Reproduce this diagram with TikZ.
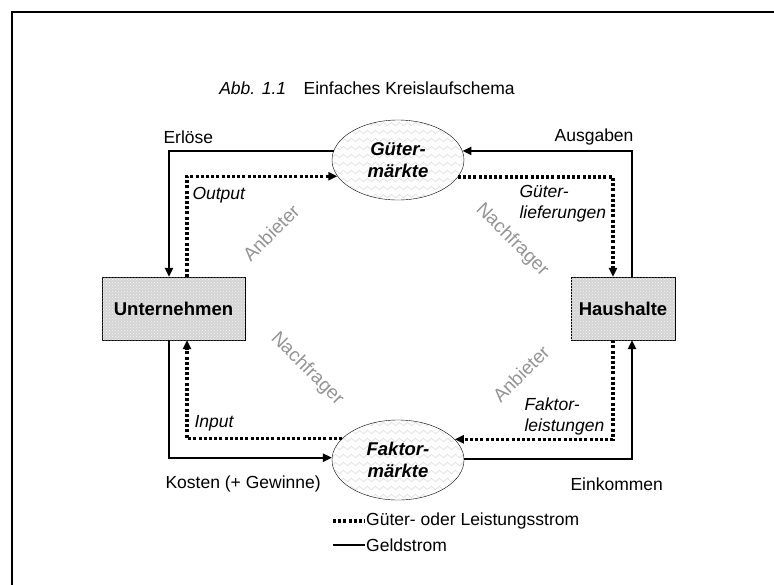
\documentclass[tikz,border=0pt]{standalone}
\usepackage{fontspec}
\setmainfont{Liberation Sans}
\usetikzlibrary{arrows.meta,decorations.pathmorphing,patterns,shapes.geometric}

\begin{document}
\begin{tikzpicture}[x=1pt,y=-1pt,
  every node/.style={font=\fontsize{17.5}{21}\selectfont},
  geld/.style={line width=2.2pt,-{Triangle[length=9pt,width=8pt]}},
  gut/.style={line width=3.4pt,dash pattern=on 3pt off 2.2pt,-{Triangle[length=9pt,width=8pt]}},
  markt/.style={draw,ellipse,minimum width=132pt,minimum height=80pt,inner sep=0pt,align=center,font=\fontsize{18.5}{22}\selectfont\bfseries\itshape},
  sektor/.style={draw,fill=black!17,postaction={pattern=crosshatch dots,pattern color=white!75!black!17},inner sep=0pt,font=\fontsize{18.5}{22}\selectfont\bfseries},
  rolle/.style={text=black!42,font=\fontsize{19}{22}\selectfont},
  welle/.style={black!13,line width=0.7pt,decorate,decoration={snake,amplitude=1.6pt,segment length=8pt}}]
\path[use as bounding box] (0,0) rectangle (774,584);
\clip (0,0) rectangle (774,584);
% frame
\draw[line width=2pt] (12,640) |- (800,12);
\node (titel) at (367,88) {\textit{Abb. 1.1}\hspace{1em}Einfaches Kreislaufschema};
% wavy fill of the markets
\begin{scope}
\clip (398,160) ellipse (66 and 40);
\foreach \y in {116,124,...,208} \draw[welle] (325,\y)--(475,\y);
\end{scope}
\begin{scope}
\clip (398,460) ellipse (66 and 40);
\foreach \y in {416,424,...,508} \draw[welle] (325,\y)--(475,\y);
\end{scope}
\node[markt] (gm) at (398,160) {Güter-\\märkte};
\node[markt] (fm) at (398,460) {Faktor-\\märkte};
\node[sektor,minimum width=143pt,minimum height=63pt] (unt) at (173.5,308.5) {Unternehmen};
\node[sektor,minimum width=104pt,minimum height=63pt] (hh) at (623,308.5) {Haushalte};
% upper half
\draw[geld] (gm.172) -| ([xshift=-4.5pt]unt.north);
\draw[gut] ([xshift=13.5pt]unt.north) |- (gm.195.9);
\draw[geld] ([xshift=9pt]hh.north) |- (gm.8);
\draw[gut] (gm.344.1) -| ([xshift=-10pt]hh.north);
\node[right] (erl) at (160,137) {Erlöse};
\node[left] (ausg) at (637,137) {Ausgaben};
\node[right] (outp) at (189,195) {\textit{Output}};
\node[right,align=left] (lief) at (516,204) {\textit{Güter-}\\\textit{lieferungen}};
% lower half
\draw[geld] ([xshift=-4.5pt]unt.south) |- (fm.178.3);
\draw[gut] (fm.159.5) -| ([xshift=13.5pt]unt.south);
\draw[geld] (fm.1.7) -| ([xshift=9pt]hh.south);
\draw[gut] ([xshift=-10pt]hh.south) |- (fm.20.5);
\node[right] (kost) at (162,484) {Kosten (+ Gewinne)};
\node[right] (eink) at (567,484) {Einkommen};
\node[right] (inp) at (191,423) {\textit{Input}};
\node[right,align=left] (fakt) at (521,416) {\textit{Faktor-}\\\textit{leistungen}};
% roles
\node[rolle,rotate=45] (anb1) at (271,233) {Anbieter};
\node[rolle,rotate=-45] (nach1) at (512,240) {Nachfrager};
\node[rolle,rotate=-45] (nach2) at (307,369) {Nachfrager};
\node[rolle,rotate=45] (anb2) at (521,374) {Anbieter};
% legend
\coordinate (lg1) at (333,521);
\coordinate (lg2) at (333,545);
\node[right,inner sep=1pt] (lgt1) at (365,521) {Güter- oder Leistungsstrom};
\node[right,inner sep=1pt] (lgt2) at (365,545) {Geldstrom};
\draw[line width=3.4pt,dash pattern=on 3pt off 2.2pt] (lg1) -- (lgt1.west);
\draw[line width=2.2pt] (lg2) -- (lgt2.west);
\end{tikzpicture}
\end{document}
